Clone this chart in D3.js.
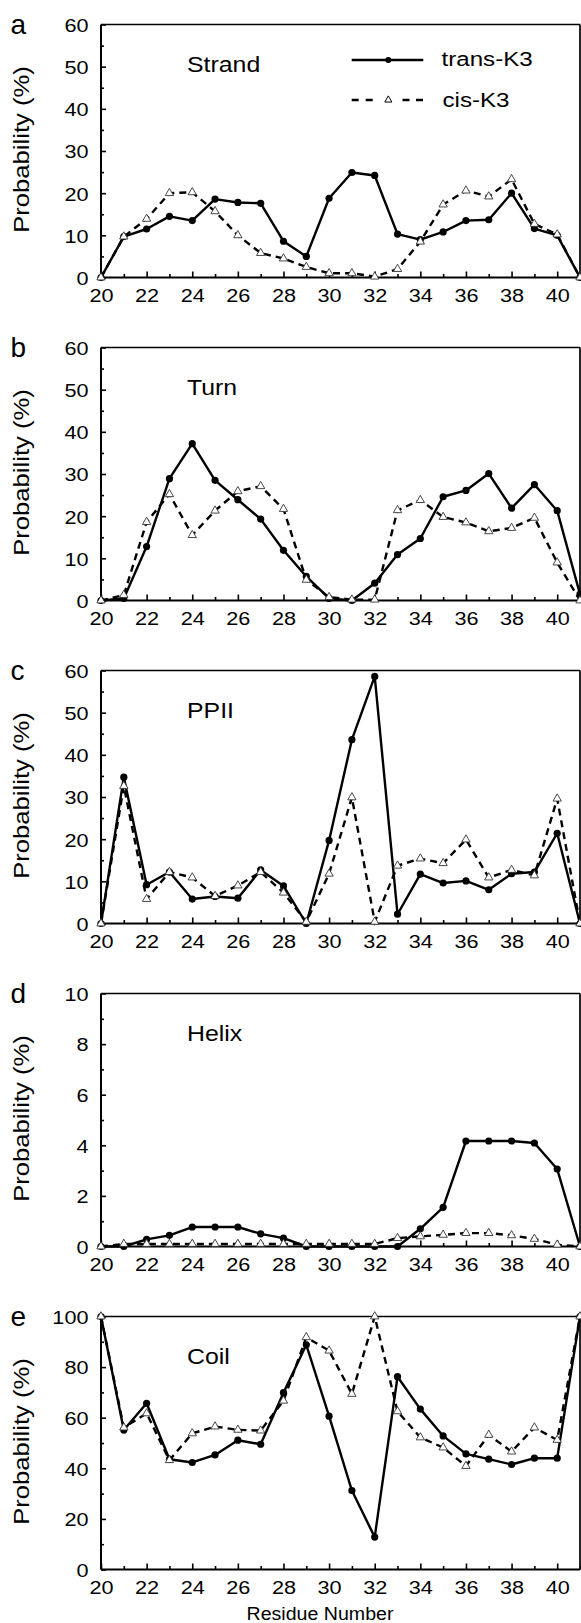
<!DOCTYPE html>
<html>
<head>
<meta charset="utf-8">
<script src="https://cdn.jsdelivr.net/npm/d3@7"></script>
<style>
  html, body { margin: 0; padding: 0; background: #fff; }
  svg { display: block; }
  text { font-family: "Liberation Sans", Arial, sans-serif; fill: #000; }
</style>
</head>
<body>
<script>
// ---------------- data ----------------
const residues = [20,21,22,23,24,25,26,27,28,29,30,31,32,33,34,35,36,37,38,39,40,41];
const panelLetters = ["a","b","c","d","e"];
const panelNames = ["Strand","Turn","PPII","Helix","Coil"];
const yMaxes = [60, 60, 60, 10, 100];
const yMajorTicks = [[0,10,20,30,40,50,60],[0,10,20,30,40,50,60],[0,10,20,30,40,50,60],[0,2,4,6,8,10],[0,20,40,60,80,100]];
const yMinorTicks = [[5,15,25,35,45,55],[5,15,25,35,45,55],[5,15,25,35,45,55],[1,3,5,7,9],[10,30,50,70,90]];
const xMajorTicks = [20,22,24,26,28,30,32,34,36,38,40];
const xMinorTicks = [21,23,25,27,29,31,33,35,37,39,41];
const seriesNames = ["trans-K3","cis-K3"];

const strandTrans = [0,9.7,11.5,14.5,13.5,18.6,17.8,17.6,8.6,5.0,18.8,24.9,24.2,10.3,9.0,10.8,13.5,13.7,20.0,11.6,10.0,0];
const strandCis   = [0,9.7,13.9,20.0,20.2,15.7,10.0,5.8,4.5,2.5,1.0,1.0,0.2,2.0,8.5,17.3,20.6,19.2,23.3,12.7,10.2,0];
const turnTrans   = [0,0.5,12.8,28.9,37.2,28.5,23.9,19.3,11.9,5.7,0.5,0,4.1,10.9,14.7,24.6,26.1,30.1,21.9,27.5,21.3,1.5];
const turnCis     = [0,1.3,18.6,25.2,15.5,21.3,25.9,27.1,21.7,4.9,0.8,0.2,0.2,21.4,23.8,19.8,18.5,16.4,17.2,19.6,9.0,0];
const ppiiTrans   = [0,34.7,9.2,12.2,5.8,6.4,6.0,12.7,8.9,0,19.7,43.6,58.6,2.2,11.7,9.6,10.1,8.0,11.8,12.2,21.4,0];
const ppiiCis     = [0,32.6,5.8,12.2,10.9,6.5,9.0,12.2,7.3,0.4,11.8,29.9,0.4,13.7,15.4,14.3,19.9,10.9,12.7,11.4,29.6,0];
const helixTrans  = [0,0,0.28,0.44,0.77,0.77,0.77,0.5,0.33,0,0,0,0,0,0.7,1.55,4.17,4.17,4.17,4.09,3.06,0];
const helixCis    = [0,0.1,0.1,0.1,0.1,0.1,0.1,0.1,0.1,0.1,0.1,0.1,0.1,0.33,0.4,0.46,0.53,0.53,0.44,0.3,0.07,0];
const coilTrans   = [100,55.1,65.7,43.6,42.3,45.3,51.1,49.5,69.9,88.8,60.6,31.2,12.8,76.2,63.4,52.8,45.7,43.6,41.5,44.0,44.0,100];
const coilCis     = [100,56.1,61.7,43.2,53.8,56.5,55.2,54.9,66.7,91.8,86.5,69.4,100,62.5,52.2,48.2,40.9,53.2,46.6,56.1,51.2,100];

const transSeries = [strandTrans, turnTrans, ppiiTrans, helixTrans, coilTrans];
const cisSeries   = [strandCis, turnCis, ppiiCis, helixCis, coilCis];

// ---------------- layout ----------------
const W = 581, H = 1623;
const left = 101, right = 580;
const firstTop = 24.5, pitch = 323, plotH = 253;
const SX = 1.14; // horizontal glyph stretch of the original font

const svg = d3.select("body").append("svg").attr("width", W).attr("height", H);

const x = d3.scaleLinear().domain([20, 41]).range([left, right]);

panelNames.forEach((name, i) => {
  const top = firstTop + i * pitch;
  const bottom = top + plotH;
  const y = d3.scaleLinear().domain([0, yMaxes[i]]).range([bottom, top]);
  const g = svg.append("g");

  // x axis (major + minor ticks, inward)
  const xa = g.append("g").attr("transform", `translate(0,${bottom})`)
    .call(d3.axisBottom(x).tickValues(xMajorTicks).tickSize(-6).tickSizeOuter(0).tickPadding(0).tickFormat(d3.format("d")));
  const xm = g.append("g").attr("transform", `translate(0,${bottom})`)
    .call(d3.axisBottom(x).tickValues(xMinorTicks).tickSize(-3.5).tickSizeOuter(0).tickFormat(""));
  // y axis
  const ya = g.append("g").attr("transform", `translate(${left},0)`)
    .call(d3.axisLeft(y).tickValues(yMajorTicks[i]).tickSize(-5).tickSizeOuter(0).tickFormat(d3.format("d")));
  const ym = g.append("g").attr("transform", `translate(${left},0)`)
    .call(d3.axisLeft(y).tickValues(yMinorTicks[i]).tickSize(-3).tickSizeOuter(0).tickFormat(""));

  [xa, xm, ya, ym].forEach(a => {
    a.select(".domain").remove();
    a.selectAll("line").attr("stroke", "#000").attr("stroke-width", 1.6);
  });
  xa.selectAll("text")
    .attr("y", 24.5).attr("dy", null)
    .style("font-size", "19px")
    .attr("transform", `scale(${SX},1)`);
  ya.selectAll("text")
    .attr("x", 0).attr("dy", "0.36em")
    .style("font-size", "19px")
    .attr("transform", `translate(-12.5,0) scale(${SX},1)`);

  // frame
  g.append("line").attr("x1", left).attr("x2", right).attr("y1", bottom).attr("y2", bottom)
    .attr("stroke", "#000").attr("stroke-width", 2.1);
  g.append("line").attr("x1", left).attr("x2", left).attr("y1", top).attr("y2", bottom)
    .attr("stroke", "#000").attr("stroke-width", 2);
  g.append("line").attr("x1", left).attr("x2", right).attr("y1", top).attr("y2", top)
    .attr("stroke", "#000").attr("stroke-width", 1.7);
  g.append("line").attr("x1", right).attr("x2", right).attr("y1", top).attr("y2", bottom)
    .attr("stroke", "#000").attr("stroke-width", 1.7);

  // lines
  const line = d3.line().x((d, j) => x(residues[j])).y(d => y(d));
  g.append("path").datum(transSeries[i]).attr("d", line)
    .attr("fill", "none").attr("stroke", "#000").attr("stroke-width", 2.4).attr("stroke-linejoin", "round");
  g.selectAll("circle.tr").data(transSeries[i]).enter().append("circle")
    .attr("class", "tr")
    .attr("cx", (d, j) => x(residues[j])).attr("cy", d => y(d)).attr("r", 3.6)
    .attr("fill", "#000");

  g.append("path").datum(cisSeries[i]).attr("d", line)
    .attr("fill", "none").attr("stroke", "#000").attr("stroke-width", 2.4)
    .attr("stroke-dasharray", "7,5");
  const tri = d3.symbol().type(d3.symbolTriangle).size(30);
  g.selectAll("path.cs").data(cisSeries[i]).enter().append("path")
    .attr("class", "cs")
    .attr("d", tri)
    .attr("transform", (d, j) => `translate(${x(residues[j])},${y(d)})`)
    .attr("fill", "#fff").attr("stroke", "#333").attr("stroke-width", 0.9);

  // panel letter
  g.append("text").attr("x", 10.5).attr("y", top + 9).style("font-size", "28px").text(panelLetters[i]);
  // structure label
  g.append("text").attr("transform", `translate(187,${top + 47.5}) scale(1.13,1)`)
    .style("font-size", "22px").text(name);
  // y title
  g.append("text")
    .attr("transform", `translate(29,${(top + bottom) / 2 - 1.5}) rotate(-90) scale(${SX},1)`)
    .attr("text-anchor", "middle").style("font-size", "22.5px").text("Probability (%)");

  // legend in first panel
  if (i === 0) {
    const l1 = top + 35.5, l2 = top + 75.5;
    g.append("line").attr("x1", 351.7).attr("x2", 423.3).attr("y1", l1).attr("y2", l1)
      .attr("stroke", "#000").attr("stroke-width", 2.4);
    g.append("circle").attr("cx", 388.3).attr("cy", l1).attr("r", 3).attr("fill", "#000");
    g.append("text").attr("transform", `translate(441.5,${top + 41.5}) scale(1.15,1)`)
      .style("font-size", "21px").text(seriesNames[0]);

    g.append("line").attr("x1", 351.7).attr("x2", 373).attr("y1", l2).attr("y2", l2)
      .attr("stroke", "#000").attr("stroke-width", 2.4).attr("stroke-dasharray", "7,7");
    g.append("line").attr("x1", 402.5).attr("x2", 423.3).attr("y1", l2).attr("y2", l2)
      .attr("stroke", "#000").attr("stroke-width", 2.4).attr("stroke-dasharray", "7,6.5");
    g.append("path").attr("d", d3.symbol().type(d3.symbolTriangle).size(22))
      .attr("transform", `translate(388.3,${l2})`)
      .attr("fill", "#fff").attr("stroke", "#000").attr("stroke-width", 1);
    g.append("text").attr("transform", `translate(442.5,${top + 82.5}) scale(1.15,1)`)
      .style("font-size", "21px").text(seriesNames[1]);
  }
});

// x title
svg.append("text").attr("transform", `translate(320,1619.5) scale(1.12,1)`)
  .attr("text-anchor", "middle").style("font-size", "17.5px").text("Residue Number");
</script>
</body>
</html>
